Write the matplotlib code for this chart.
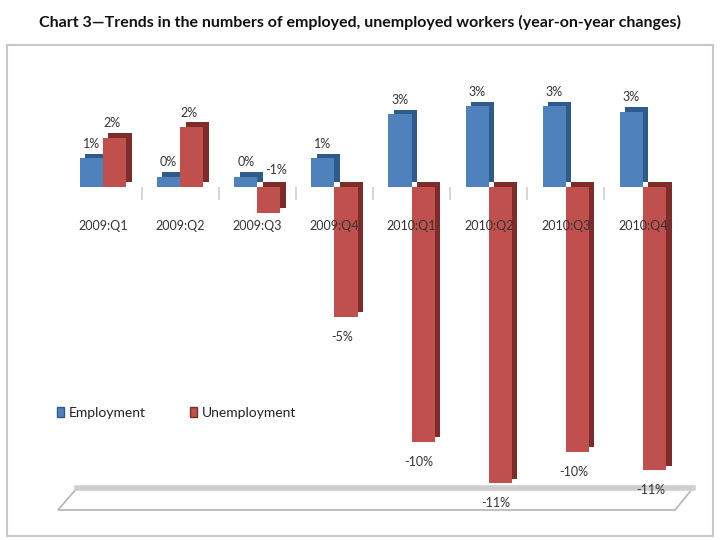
import numpy as np
import matplotlib
matplotlib.use('Agg')
import matplotlib.pyplot as plt
from matplotlib.patches import Polygon, Rectangle, Patch

# data (year-on-year change, %)
quarters = ['2009:Q1', '2009:Q2', '2009:Q3', '2009:Q4',
            '2010:Q1', '2010:Q2', '2010:Q3', '2010:Q4']
employment = [1.1, 0.4, 0.4, 1.1, 2.8, 3.1, 3.1, 2.9]
unemployment = [1.9, 2.3, -1.0, -5.0, -9.8, -11.4, -10.2, -10.9]
series_names = ['Employment', 'Unemployment']

blue, blue_dark = '#4F81BD', '#2F5A8C'
red, red_dark = '#C0504D', '#7E2C2A'

plt.rcParams['font.family'] = ['Lato', 'DejaVu Sans']

fig = plt.figure(figsize=(7.2, 5.4), dpi=100)
W, H = 720, 540

# chart frame
fig.patches.append(Rectangle((7 / W, 1 - 536 / H), 706 / W, 491 / H,
                             transform=fig.transFigure, fill=False,
                             edgecolor='#c8c8c8', linewidth=1.5))
fig.text(0.5, 1 - 22 / H,
         'Chart 3\u2014Trends in the numbers of employed, unemployed workers (year-on-year changes)',
         ha='center', va='center', fontsize=11.5, fontweight='bold', color='#111111')

ax = fig.add_axes([40 / W, 1 - 530 / H, 660 / W, 460 / H])
ax.set_xlim(-0.817, 7.739)
ax.set_ylim(-13.2, 4.5)

x = np.arange(len(quarters))
bw = 0.3
dx, dy = 0.07, 0.18  # fake 3d depth

# floor of the 3d chart (axes coords)
def to_ax(px, py):
    return ((px - 40) / 660, (530 - py) / 460)

floor = Polygon([to_ax(77, 488), to_ax(693, 488), to_ax(675, 510), to_ax(58, 510)],
                closed=True, transform=ax.transAxes, facecolor='white',
                edgecolor='#b5b5b5', linewidth=1.2, zorder=0)
ax.add_patch(floor)
ax.plot([to_ax(77, 488)[0], to_ax(693, 488)[0]], [to_ax(77, 488)[1]] * 2,
        transform=ax.transAxes, color='#cfcfcf', linewidth=4, zorder=0.5)

# side faces first, then front faces
ax.bar(x - bw / 2 + dx, employment, bw, bottom=dy, color=blue_dark, zorder=2)
ax.bar(x + bw / 2 + dx, unemployment, bw, bottom=dy, color=red_dark, zorder=2)
eb = ax.bar(x - bw / 2, employment, bw, color=blue, zorder=3)
ub = ax.bar(x + bw / 2, unemployment, bw, color=red, zorder=3)

lab_kw = dict(ha='center', fontsize=9, color='#333333', zorder=5)
for xi, v in zip(x, employment):
    ax.annotate(f'{round(v):d}%', (xi - bw / 2, v), xytext=(0, 6),
                textcoords='offset points', va='bottom', **lab_kw)
for xi, v in zip(x, unemployment):
    if v >= 0:
        ax.annotate(f'{round(v):d}%', (xi + bw / 2, v), xytext=(-2, 6),
                    textcoords='offset points', va='bottom', **lab_kw)
    elif v > -2:
        # small negative: label kept above the baseline, right of the bar
        ax.annotate(f'{round(v):d}%', (xi + bw / 2, 0), xytext=(5, 8),
                    textcoords='offset points', va='bottom', **lab_kw)
    else:
        ax.annotate(f'{round(v):d}%', (xi + bw / 2, v), xytext=(-3, -10),
                    textcoords='offset points', va='top', **lab_kw)

# category axis sits on the zero line, labels drawn over the bars
for s in ['top', 'right', 'left']:
    ax.spines[s].set_visible(False)
ax.spines['bottom'].set_position(('data', 0))
ax.spines['bottom'].set_visible(False)
ax.set_yticks([])
ax.set_xticks(x)
ax.set_xticklabels(quarters, fontsize=9, color='#333333')
ax.tick_params(axis='x', which='major', length=0, pad=24)
ax.set_xticks(x[:-1] + 0.5, minor=True)
ax.tick_params(axis='x', which='minor', length=9, color='#d0d0d0', width=1.2)
ax.xaxis.set_zorder(6)
ax.patch.set_alpha(0)

handles = [Patch(facecolor=blue, edgecolor=blue_dark),
           Patch(facecolor=red, edgecolor=red_dark)]
fig.legend(handles, series_names, loc='center left',
           bbox_to_anchor=(44 / W, 1 - 413 / H), ncol=2, frameon=False,
           fontsize=10, handlelength=0.55, handleheight=0.75, handletextpad=0.3,
           columnspacing=3.2, labelcolor='#222222')

fig.savefig('out.png', dpi=100)
